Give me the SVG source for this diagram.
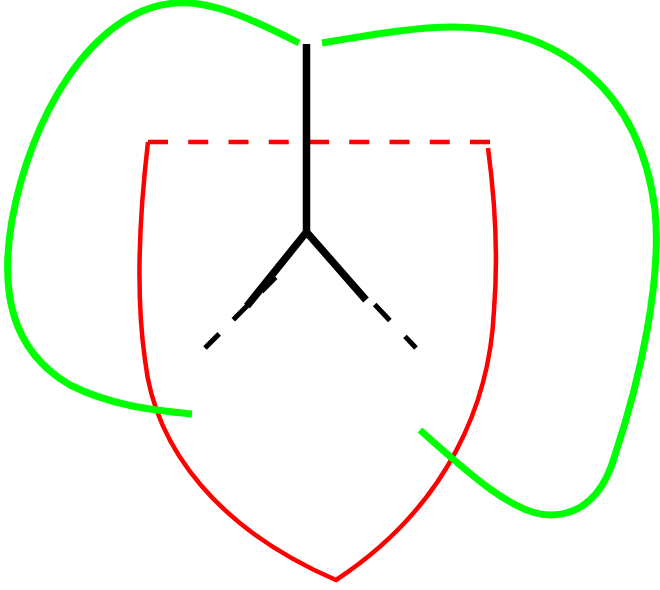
<svg xmlns="http://www.w3.org/2000/svg" width="660" height="590" viewBox="0 0 660 590">
  <style>
    .g { fill: none; stroke: #00ff00; stroke-width: 7; stroke-linecap: butt; }
    .r { fill: none; stroke: #ff0000; stroke-width: 4.5; stroke-linejoin: miter; }
    .rd { fill: none; stroke: #ff0000; stroke-width: 4.5; stroke-dasharray: 20 20.25; }
    .k { fill: none; stroke: #000000; stroke-width: 7.5; stroke-linecap: butt; stroke-linejoin: miter; }
    .kd { fill: none; stroke: #000000; stroke-width: 5; }
  </style>
  <rect width="660" height="590" fill="#ffffff"/>
  <g id="red-shield">
    <path class="r" d="M148,142 C140,210 135,290 145,360 C155,450 220,530 336,580 C450,505 490,400 494,310 C498,260 495,200 488,148"/>
    <line class="rd" x1="148" y1="142" x2="490" y2="142"/>
  </g>
  <g id="green-loop">
    <path class="g" d="M299,43 C250,18 210,0 175,3 C90,10 30,120 12,220 C0,290 10,350 70,385 C110,405 150,410 192,414"/>
    <path class="g" d="M322,43 C380,33 420,27 453,27 C560,27 640,90 655,210 C662,280 640,380 615,455 C605,490 585,515 550,515 C515,515 470,475 420,430"/>
  </g>
  <g id="black-y">
    <path class="k" d="M306.5,44 L306.5,232 M247,306 L306.5,232 L366,300"/>
    <line class="kd" x1="205" y1="348" x2="276" y2="277" stroke-dasharray="20 20"/>
    <line class="kd" x1="416" y1="348" x2="306" y2="232" stroke-dasharray="16 22 22 200"/>
  </g>
</svg>
